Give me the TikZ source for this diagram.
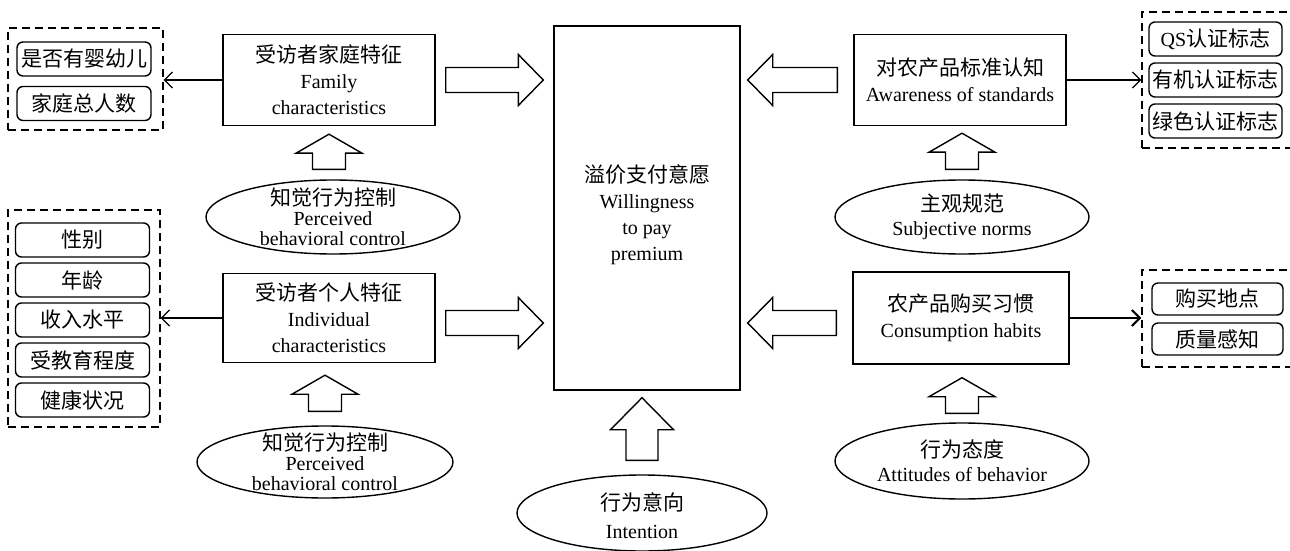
\documentclass[tikz,border=0pt]{standalone}
\usepackage{fontspec}
\setmainfont{Liberation Serif}
\newfontfamily\cjk[Scale=1.05]{Noto Sans CJK SC}
\usetikzlibrary{shapes.geometric,calc,arrows.meta}
\newcommand\zh[1]{{\cjk #1}}
% hollow block arrow: tail, tip, shaft half width, head half width, head length
\def\fatarrow#1#2#3#4#5{%
  \draw[fatarrow] let \p1=#1, \p2=#2, \n1={atan2(\y2-\y1,\x2-\x1)}, \n2={veclen(\x2-\x1,\y2-\y1)} in
    [shift={(\p1)},rotate=\n1] (0pt,-#3) -- ({\n2-#5},-#3) -- ({\n2-#5},-#4) -- (\n2,0pt)
    -- ({\n2-#5},#4) -- ({\n2-#5},#3) -- (0pt,#3) -- cycle;}
\tikzstyle{box}=[draw,line width=0.7pt,minimum width=106pt,minimum height=45.5pt,align=center,inner sep=2pt,font=\fontsize{10}{13}\selectfont]
\tikzstyle{oval}=[draw,ellipse,line width=0.7pt,minimum width=127pt,minimum height=37pt,inner sep=0pt]
\tikzstyle{ovaltext}=[align=center,inner sep=0pt,font=\fontsize{10}{12}\selectfont]
\tikzstyle{item}=[draw,line width=0.7pt,rounded corners=3pt,minimum width=67pt,minimum height=17pt,inner sep=1pt,font=\fontsize{10}{12}\selectfont]
\tikzstyle{group}=[draw,line width=0.7pt,dash pattern=on 4pt off 2.5pt,inner sep=0pt]
\tikzstyle{fatarrow}=[draw,fill=white,line width=0.7pt,line join=miter]
\tikzstyle{link}=[line width=0.6pt,-{Straight Barb[length=4pt,width=8pt]}]

\begin{document}
\begin{tikzpicture}[x=0.5pt,y=-0.5pt]
  \useasboundingbox (0,0) rectangle (1290,551);

  % centre
  \node[box,minimum width=93pt,minimum height=182pt,label={[ovaltext,font=\fontsize{10}{13}\selectfont,yshift=-3.5pt]center:\zh{溢价支付意愿}\\Willingness\\to pay\\premium}] (wtp) at (647,208) {};

  % left column
  \node[box] (fam) at (329,80) {\zh{受访者家庭特征}\\Family\\characteristics};
  \node[box,minimum height=44.5pt] (ind) at (329,318) {\zh{受访者个人特征}\\Individual\\characteristics};
  \node[oval,label={[ovaltext,font=\fontsize{10}{10}\selectfont]center:\zh{知觉行为控制}\\Perceived\\behavioral control}] (pbc1) at (333,217) {};
  \node[oval,minimum width=128pt,minimum height=36pt,label={[ovaltext,font=\fontsize{10}{10}\selectfont]center:\zh{知觉行为控制}\\Perceived\\behavioral control}] (pbc2) at (325,462) {};

  % right column
  \node[box] (std) at (960,80) {\zh{对农产品标准认知}\\Awareness of standards};
  \node[box,minimum width=108pt,minimum height=46pt] (hab) at (961,318) {\zh{农产品购买习惯}\\Consumption habits};
  \node[oval,label={[ovaltext]center:\zh{主观规范}\\Subjective norms}] (sn) at (962,217) {};
  \node[oval,minimum height=38pt,label={[ovaltext]center:\zh{行为态度}\\Attitudes of behavior}] (att) at (962,461) {};

  % bottom
  \node[oval,minimum width=125pt,minimum height=38pt,label={[ovaltext,font=\fontsize{10}{14}\selectfont,yshift=-1.5pt]center:\zh{行为意向}\\Intention}] (int) at (642,513) {};

  % item groups
  \node[group,minimum width=77.5pt,minimum height=51pt] (g1) at (85.5,79) {};
  \foreach \t [count=\i] in {是否有婴幼儿,家庭总人数}
    \node[item] (f\i) at (84,{59+44.5*(\i-1)}) {\zh{\t}};
  \node[group,minimum width=76pt,minimum height=108.5pt] (g2) at (84,318.5) {};
  \foreach \t [count=\i] in {性别,年龄,收入水平,受教育程度,健康状况}
    \node[item] (p\i) at (82.5,{240+40*(\i-1)}) {\zh{\t}};
  \node[group,minimum width=77pt,minimum height=68pt] (g3) at (1219,80) {};
  \node[item,minimum width=66.5pt] (s1) at (1215.5,39) {QS\zh{认证标志}};
  \node[item,minimum width=66.5pt] (s2) at (1215.5,80) {\zh{有机认证标志}};
  \node[item,minimum width=66.5pt] (s3) at (1215.5,121) {\zh{绿色认证标志}};
  \node[group,minimum width=77pt,minimum height=48.5pt] (g4) at (1219,318.5) {};
  \node[item,minimum width=65.5pt,minimum height=16pt] (h1) at (1217.5,299) {\zh{购买地点}};
  \node[item,minimum width=65.5pt,minimum height=16pt] (h2) at (1217.5,339) {\zh{质量感知}};

  % thin links
  \draw[link] (fam.west) -- (fam.west -| g1.east);
  \draw[link] (ind.west) -- (ind.west -| g2.east);
  \draw[link] (std.east) -- (std.east -| g3.west);
  \draw[link,line width=1pt] (hab.east) -- (hab.east -| g4.west);

  % block arrows
  \fatarrow{([xshift=5pt]fam.east)}{([xshift=-5pt]wtp.west |- fam.east)}{6.25pt}{12.75pt}{12.5pt}
  \fatarrow{([xshift=5pt,yshift=-2.5pt]ind.east)}{([xshift=-5pt,yshift=-2.5pt]wtp.west |- ind.east)}{6.25pt}{12.75pt}{12.5pt}
  \fatarrow{([xshift=-8pt]std.west)}{([xshift=3.5pt]wtp.east |- std.west)}{6.25pt}{12.75pt}{12.5pt}
  \fatarrow{([xshift=-8pt,yshift=-2.5pt]hab.west)}{([xshift=3.5pt,yshift=-2.5pt]wtp.east |- hab.west)}{6.25pt}{12.75pt}{12.5pt}
  \fatarrow{([yshift=5pt]fam.south |- pbc1.north)}{([yshift=-4pt]fam.south)}{8.25pt}{16.5pt}{9.5pt}
  \fatarrow{([yshift=7pt]pbc2.north)}{([yshift=-6pt]pbc2.north |- ind.south)}{8.25pt}{16.5pt}{9.5pt}
  \fatarrow{([yshift=5pt]sn.north)}{([yshift=-3.5pt]sn.north |- std.south)}{8.25pt}{16.5pt}{9.5pt}
  \fatarrow{([yshift=4.5pt]att.north)}{([yshift=-6.5pt]att.north |- hab.south)}{8.25pt}{16.5pt}{9.5pt}
  \fatarrow{([yshift=7pt]int.north)}{([yshift=-3.5pt]int.north |- wtp.south)}{8pt}{15.75pt}{16pt}
\end{tikzpicture}
\end{document}
